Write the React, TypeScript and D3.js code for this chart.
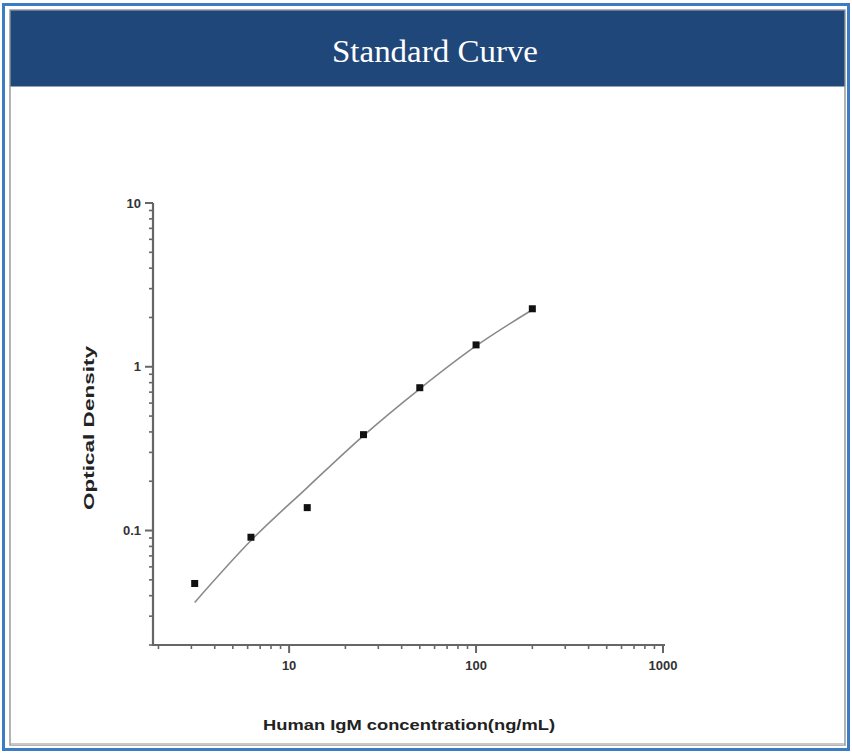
import React from "react";
import * as d3 from "d3";

const concentrations = [3.125, 6.25, 12.5, 25, 50, 100, 200];
const odValues = [0.0475, 0.091, 0.138, 0.385, 0.745, 1.36, 2.26];
const curveX = [3.125, 6.25, 12.5, 25, 50, 100, 200];
const curveY = [0.0364, 0.0869, 0.183, 0.38, 0.734, 1.34, 2.23];
const xMajorTicks = [10, 100, 1000];
const xMinorTicks = [2, 3, 4, 5, 6, 7, 8, 9, 20, 30, 40, 50, 60, 70, 80, 90, 200, 300, 400, 500, 600, 700, 800, 900];
const yMajorTicks = [0.1, 1, 10];
const yMinorTicks = [0.02, 0.03, 0.04, 0.05, 0.06, 0.07, 0.08, 0.09, 0.2, 0.3, 0.4, 0.5, 0.6, 0.7, 0.8, 0.9, 2, 3, 4, 5, 6, 7, 8, 9];
const title = "Standard Curve";
const xTitle = "Human IgM concentration(ng/mL)";
const yTitle = "Optical Density";

export default function App() {
  const W = 852, H = 753;
  const x = d3.scaleLog().domain([1.87, 1025]).range([153, 665]);
  const y = d3.scaleLog().domain([0.02, 10]).range([645, 203]);
  const pts = curveX.map((c, i) => [c, curveY[i]] as [number, number]);
  const line = d3.line<[number, number]>().x(d => x(d[0])).y(d => y(d[1])).curve(d3.curveMonotoneX);
  const fmt = (v: number) => String(v);
  const axisColor = "#666";
  const labelColor = "#333";
  return (
    <div style={{ position: "absolute", left: 0, top: 0 }}>
      <svg width={W} height={H} style={{ display: "block" }}>
        <rect x={0} y={0} width={W} height={H} fill="#ffffff" />
        <rect x={3.5} y={4.5} width={845} height={745} fill="none" stroke="#3c7cc4" strokeWidth={3} />
        <rect x={10} y={10} width={835} height={735} fill="#ffffff" stroke="#9a9a9a" strokeWidth={1.5} />
        <line x1={11} x2={844} y1={744} y2={744} stroke="#c8c8c8" strokeWidth={2} />
        <rect x={10.5} y={10.5} width={834} height={76} fill="#1f477a" />
        <text x={435} y={62} textAnchor="middle" fill="#ffffff" fontFamily="'Liberation Serif', 'Times New Roman', serif" fontSize={32} textLength={206} lengthAdjust="spacingAndGlyphs">{title}</text>

        {/* curve */}
        <path d={line(pts) || ""} fill="none" stroke="#8a8a8a" strokeWidth={1.6} />

        {/* points */}
        {concentrations.map((c, i) => (
          <rect key={i} x={x(c) - 3.5} y={y(odValues[i]) - 3.5} width={7} height={7} fill="#111" />
        ))}

        {/* axes */}
        <line x1={153} y1={203} x2={153} y2={646} stroke={axisColor} strokeWidth={2.2} />
        <line x1={152} y1={645} x2={665} y2={645} stroke={axisColor} strokeWidth={2.2} />
        {yMajorTicks.map(t => (
          <g key={"ym" + t}>
            <line x1={145} x2={153} y1={y(t)} y2={y(t)} stroke={axisColor} strokeWidth={2} />
            <text x={141} y={y(t) + 4.5} textAnchor="end" fontFamily="'Liberation Sans', Arial, sans-serif" fontWeight="bold" fontSize={13} fill={labelColor}>{fmt(t)}</text>
          </g>
        ))}
        {yMinorTicks.map(t => (
          <line key={"yn" + t} x1={149} x2={153} y1={y(t)} y2={y(t)} stroke={axisColor} strokeWidth={1.6} />
        ))}
        {xMajorTicks.map(t => (
          <g key={"xm" + t}>
            <line x1={x(t)} x2={x(t)} y1={645} y2={653} stroke={axisColor} strokeWidth={2} />
            <text x={x(t)} y={670} textAnchor="middle" fontFamily="'Liberation Sans', Arial, sans-serif" fontWeight="bold" fontSize={13} fill={labelColor}>{fmt(t)}</text>
          </g>
        ))}
        {xMinorTicks.map(t => (
          <line key={"xn" + t} x1={x(t)} x2={x(t)} y1={645} y2={649} stroke={axisColor} strokeWidth={1.6} />
        ))}

        <text x={409} y={730} textAnchor="middle" fontFamily="'Liberation Sans', Arial, sans-serif" fontWeight="bold" fontSize={15.5} fill="#222" textLength={292} lengthAdjust="spacingAndGlyphs">{xTitle}</text>
        <text transform={`translate(94,428) rotate(-90)`} textAnchor="middle" fontFamily="'Liberation Sans', Arial, sans-serif" fontWeight="bold" fontSize={14.5} fill="#222" textLength={164} lengthAdjust="spacingAndGlyphs">{yTitle}</text>
      </svg>
    </div>
  );
}
